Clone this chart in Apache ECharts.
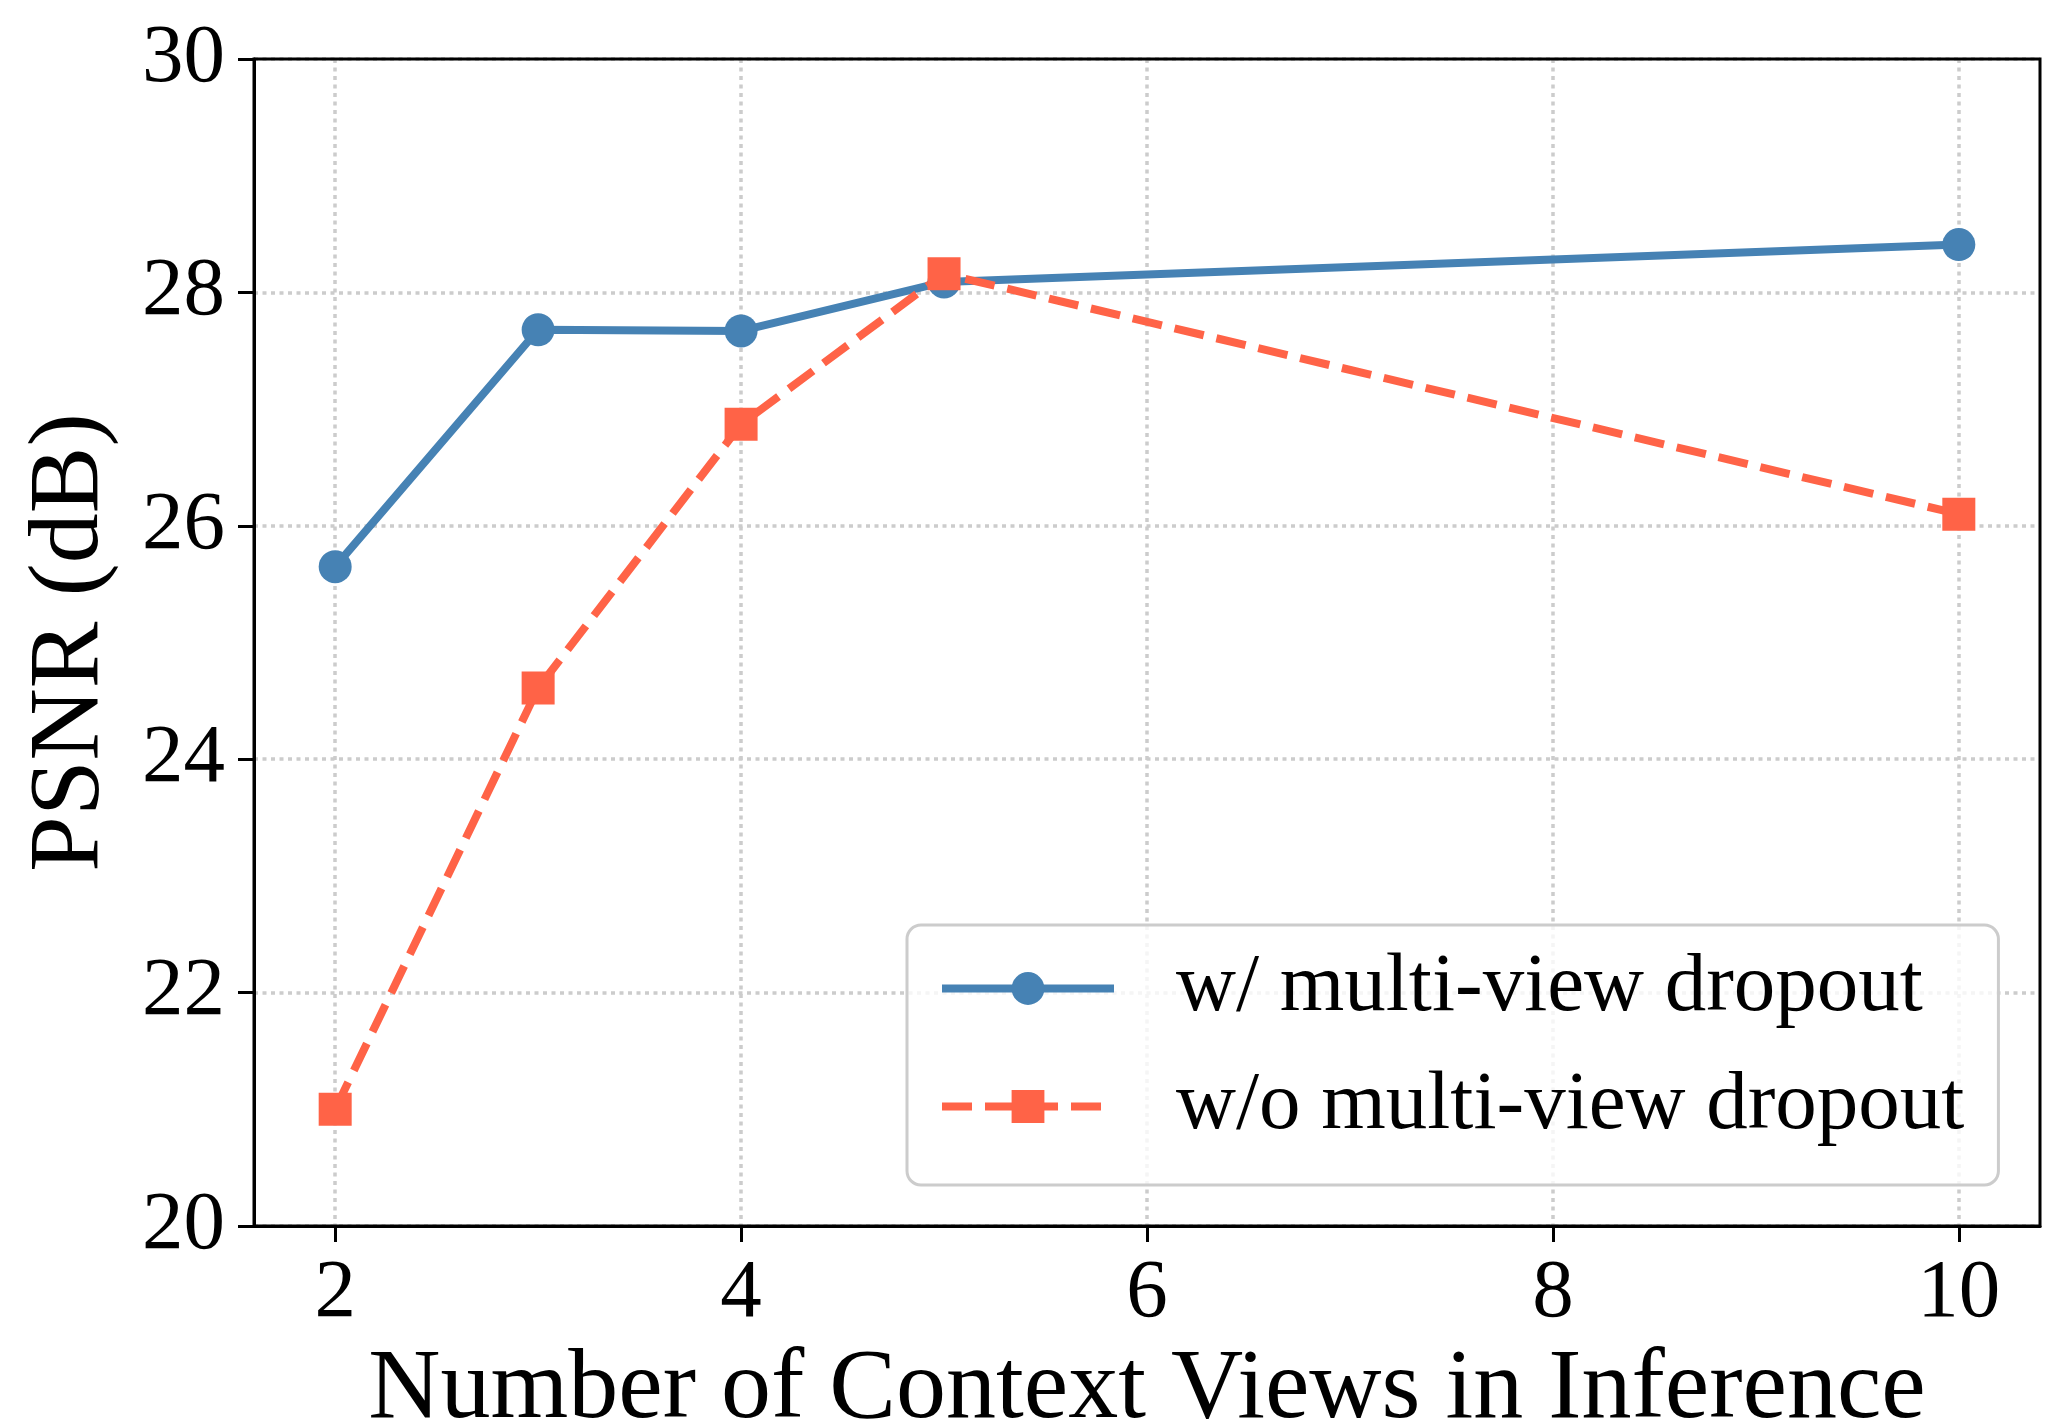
<!DOCTYPE html>
<html>
<head>
<meta charset="utf-8">
<script src="https://cdn.jsdelivr.net/npm/echarts@6/dist/echarts.min.js"></script>
<style>
  html, body { margin: 0; padding: 0; background: #fff; }
  #chart { width: 2071px; height: 1422px; }
</style>
</head>
<body>
<div id="chart"></div>
<script>
// context views used at inference
const views = [2, 3, 4, 5, 10];
const xTicks = [2, 4, 6, 8, 10];
// PSNR (dB)
const withDropout = [25.65, 27.68, 27.67, 28.09, 28.41];
const withoutDropout = [21.0, 24.61, 26.87, 28.16, 26.1];

const FONT = 'Liberation Serif';
const BLUE = '#4682B4';
const RED = '#FF6347';

const pairs = (xs, ys) => xs.map((x, i) => [x, ys[i]]);

const chart = echarts.init(document.getElementById('chart'));

const gridLine = {
  show: true,
  lineStyle: { color: '#cccccc', width: 3.5, type: [4, 4.5] }
};

chart.setOption({
  animation: false,
  grid: {
    left: 254, right: 31, top: 59, bottom: 196,
    outerBoundsMode: 'none',
    // border above the dotted split lines, below the series
    z: 1,
    show: true, borderColor: '#000', borderWidth: 3
  },
  xAxis: {
    type: 'value',
    min: 1.6,
    max: 10.4,
    name: 'Number of Context Views in Inference',
    nameLocation: 'middle',
    nameGap: 110,
    nameTextStyle: { fontFamily: FONT, fontSize: 100, color: '#000' },
    axisLine: { lineStyle: { color: '#000', width: 3 } },
    axisTick: { customValues: xTicks, length: 16, lineStyle: { width: 3, color: '#000' } },
    axisLabel: { customValues: xTicks, margin: 27, fontFamily: FONT, fontSize: 83, color: '#000' },
    splitLine: gridLine
  },
  yAxis: {
    type: 'value',
    min: 20,
    max: 30,
    interval: 2,
    name: 'PSNR (dB)',
    nameLocation: 'middle',
    nameGap: 133,
    nameTextStyle: { fontFamily: FONT, fontSize: 100, color: '#000' },
    axisLine: { show: true, lineStyle: { color: '#000', width: 3 } },
    axisTick: { show: true, length: 16, lineStyle: { width: 3, color: '#000' } },
    axisLabel: { margin: 29, fontFamily: FONT, fontSize: 83, color: '#000' },
    splitLine: gridLine
  },
  legend: {
    orient: 'vertical',
    left: 907,
    top: 925,
    padding: [22, 34, 37, 31],
    itemWidth: 172,
    itemHeight: 41,
    itemGap: 35,
    backgroundColor: 'rgba(255,255,255,0.8)',
    borderColor: '#cccccc',
    borderWidth: 3,
    borderRadius: 14,
    lineStyle: { width: 8 },
    textStyle: {
      fontFamily: FONT, fontSize: 83, color: '#000',
      padding: [0, 0, 0, 57]
    },
    data: ['w/ multi-view dropout', 'w/o multi-view dropout']
  },
  series: [
    {
      name: 'w/ multi-view dropout',
      type: 'line',
      data: pairs(views, withDropout),
      symbol: 'circle',
      symbolSize: 33,
      lineStyle: { color: BLUE, width: 8 },
      itemStyle: { color: BLUE }
    },
    {
      name: 'w/o multi-view dropout',
      type: 'line',
      data: pairs(views, withoutDropout),
      symbol: 'rect',
      symbolSize: 33,
      lineStyle: { color: RED, width: 8, type: [30, 13] },
      itemStyle: { color: RED }
    }
  ]
});
</script>
</body>
</html>
